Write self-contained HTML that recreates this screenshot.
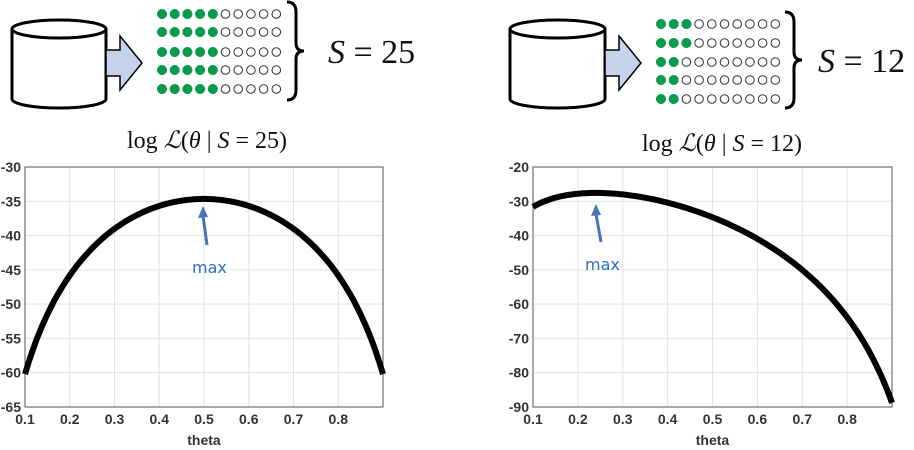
<!DOCTYPE html>
<html><head><meta charset="utf-8"><style>
html,body{margin:0;padding:0;background:#fff;}
svg{display:block;}
.tk{font-family:"Liberation Sans",sans-serif;font-weight:bold;font-size:14px;fill:#333;}
.mt{font-family:"Liberation Serif",serif;fill:#111;}
</style></head><body>
<svg id="s" width="914" height="450" viewBox="0 0 914 450" xmlns="http://www.w3.org/2000/svg"></svg>
<script>
var s=document.getElementById('s'),h='';
function cyl(x0,x1,y0,y1){var cx=(x0+x1)/2,rx=(x1-x0)/2,ry=9;
h+='<path d="M'+x0+','+(y0+ry)+' L'+x0+','+(y1-ry)+' A'+rx+','+ry+' 0 0 0 '+x1+','+(y1-ry)+' L'+x1+','+(y0+ry)+'" fill="#fff" stroke="#000" stroke-width="3"/>';
h+='<ellipse cx="'+cx+'" cy="'+(y0+ry)+'" rx="'+rx+'" ry="'+ry+'" fill="#fff" stroke="#000" stroke-width="3"/>';}
function arrow(x,y){h+='<path d="M'+x+','+(y+12)+' h14 v-14 l22,27 l-22,27 v-14 h-14 z" fill="#c5d3ea" stroke="#000" stroke-width="1.5"/>';}
function dots(x0,ys,greens){for(var r=0;r<5;r++)for(var c=0;c<10;c++){var g=c<greens[r];
h+='<circle cx="'+(x0+c*12.7)+'" cy="'+ys[r]+'" r="'+(g?4.8:4.3)+'" fill="'+(g?'#0a9a4e':'#fff')+'" stroke="'+(g?'#0a9a4e':'#333')+'" stroke-width="'+(g?0.5:1)+'"/>';}}
function brace(x,y0,y1){var m=(y0+y1)/2;
h+='<path d="M'+x+','+y0+' q9,0 9,10 v'+(m-y0-18)+' q0,8 8,8 q-8,0 -8,8 v'+(y1-m-18)+' q0,10 -9,10" fill="none" stroke="#000" stroke-width="3"/>';}
cyl(12,106,20,108);arrow(106,38);dots(162,[14,32,52,70,89],[5,5,5,5,5]);brace(287,2,100);
h+='<text class="mt" x="328" y="63" font-size="34"><tspan font-style="italic">S</tspan> = 25</text>';
h+='<text class="mt" x="207" y="148" font-size="24" text-anchor="middle">log <tspan font-style="italic" font-family="DejaVu Serif">ℒ</tspan>(<tspan font-style="italic">θ</tspan> | <tspan font-style="italic">S</tspan> = 25)</text>';
cyl(510,605,20,108);arrow(605,38);dots(661,[24,43,62,80,99],[3,3,2,2,2]);brace(785,12,108);
h+='<text class="mt" x="818" y="72" font-size="34"><tspan font-style="italic">S</tspan> = 12</text>';
h+='<text class="mt" x="722" y="151" font-size="24" text-anchor="middle">log <tspan font-style="italic" font-family="DejaVu Serif">ℒ</tspan>(<tspan font-style="italic">θ</tspan> | <tspan font-style="italic">S</tspan> = 12)</text>';
function plot(L,R,T,B,ymin,ymax,ystep,f,ax,ay){
 var X=function(t){return L+(t-0.1)/0.8*(R-L)},Y=function(v){return T+(ymax-v)/(ymax-ymin)*(B-T)};
 h+='<rect x="'+L+'" y="'+T+'" width="'+(R-L)+'" height="'+(B-T)+'" fill="#fff"/>';
 for(var i=1;i<=8;i++){var t=i/10,x=X(t);h+='<line x1="'+x+'" y1="'+T+'" x2="'+x+'" y2="'+B+'" stroke="#e3e3e3"/>';
  h+='<text class="tk" x="'+x+'" y="'+(B+17)+'" text-anchor="middle">'+t.toFixed(1)+'</text>';}
 for(var v=ymax;v>=ymin;v-=ystep){var y=Y(v);h+='<line x1="'+L+'" y1="'+y+'" x2="'+R+'" y2="'+y+'" stroke="#e3e3e3"/>';
  h+='<text class="tk" x="'+(L-4)+'" y="'+(y+5)+'" text-anchor="end">'+v+'</text>';}
 h+='<rect x="'+L+'" y="'+T+'" width="'+(R-L)+'" height="'+(B-T)+'" fill="none" stroke="#555" stroke-width="1"/>';
 var d='';for(var k=0;k<=200;k++){var t=0.1+0.8*k/200;d+=(k?'L':'M')+X(t).toFixed(1)+','+Y(f(t)).toFixed(1);}
 h+='<path d="'+d+'" fill="none" stroke="#000" stroke-width="6"/>';
 h+='<text class="tk" x="'+((L+R)/2)+'" y="'+(B+38)+'" text-anchor="middle" font-size="16">theta</text>';
 h+='<line x1="'+ay[0]+'" y1="'+ay[1]+'" x2="'+ay[2]+'" y2="'+ay[3]+'" stroke="#4a72b8" stroke-width="3"/>';
 h+='<path d="M'+ay[2]+','+(ay[3]-10)+' l-5,12 l10,-1 z" fill="#4a72b8"/>';
 h+='<text x="'+ax[0]+'" y="'+ax[1]+'" font-family="DejaVu Sans,sans-serif" font-size="16" fill="#2a72c0">max</text>';
}
plot(25,383,167,407,-65,-30,5,function(t){return 25*Math.log(t)+25*Math.log(1-t)},[192,273],[207,245,203,216]);
plot(533,892,167,407,-90,-20,10,function(t){return 12*Math.log(t)+38*Math.log(1-t)},[585,270],[601,242,596,214]);
s.innerHTML=h;
</script>
</body></html>
